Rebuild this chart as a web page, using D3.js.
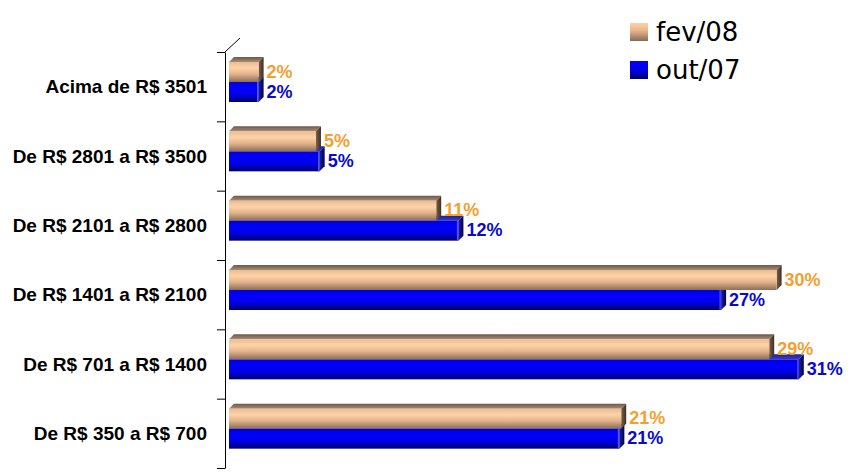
<!DOCTYPE html>
<html><head><meta charset="utf-8">
<script src="https://cdn.jsdelivr.net/npm/d3@7"></script>
<style>body{margin:0;background:#fff}svg{display:block}</style>
</head><body>
<svg id="c" width="855" height="476"></svg>
<script>
const categories = ["Acima de R$ 3501","De R$ 2801 a R$ 3500","De R$ 2101 a R$ 2800","De R$ 1401 a R$ 2100","De R$ 701 a R$ 1400","De R$ 350 a R$ 700"];
const seriesNames = ["fev/08","out/07"];
const fev08 = [1.6, 4.7, 11.2, 29.6, 29.2, 21.2];
const out07 = [1.6, 4.9, 12.4, 26.6, 30.8, 21.1];

const svg = d3.select("#c");
const defs = svg.append("defs");
function grad(id, stops, horiz){
  const g = defs.append("linearGradient").attr("id", id)
    .attr("x1",0).attr("y1",0).attr("x2",horiz?1:0).attr("y2",horiz?0:1);
  stops.forEach(s=>g.append("stop").attr("offset",s[0]).attr("stop-color",s[1]));
}
grad("tanFront",[[0,"#E9BC94"],[0.3,"#FFD2A6"],[0.6,"#E2B48C"],[1,"#8E6E55"]]);
grad("tanTop",[[0,"#6E5848"],[1,"#A88C78"]]);
grad("tanSide",[[0,"#7A6048"],[1,"#3E2E22"]],true);
grad("blueFront",[[0,"#0000D8"],[0.3,"#0000FF"],[0.65,"#0000E0"],[1,"#00006E"]]);
grad("blueTop",[[0,"#202090"],[1,"#3A3AD0"]]);
grad("blueSide",[[0,"#2020A0"],[1,"#00004A"]],true);
grad("legTan",[[0,"#FFD0A4"],[0.4,"#E8B890"],[1,"#8A6A52"]]);
grad("legBlue",[[0,"#0000FF"],[0.5,"#0000E8"],[1,"#000070"]]);

const x = d3.scaleLinear().domain([0,31]).range([229, 229+31*18.5]);
const y = d3.scaleBand().domain(categories).range([52,468]).padding(0);
const ys = d3.scaleBand().domain(seriesNames).range([10,50]).padding(0);
const axisX = 225;
const D = 5; // depth

const data = [];
categories.forEach((c,i)=>{
  data.push({cat:c, s:"out/07", v:out07[i]});
});
categories.forEach((c,i)=>{
  data.push({cat:c, s:"fev/08", v:fev08[i]});
});

const style = {
  "fev/08":{front:"url(#tanFront)",top:"url(#tanTop)",side:"url(#tanSide)",label:"#F4A030"},
  "out/07":{front:"url(#blueFront)",top:"url(#blueTop)",side:"url(#blueSide)",label:"#0A0ACD"}
};

const bars = svg.append("g");
const g = bars.selectAll("g.bar").data(data).join("g").attr("class","bar");
g.each(function(d){
  const sel = d3.select(this);
  const x0 = x(0), x1 = x(d.v);
  const yt = y(d.cat) + ys(d.s), yb = yt + ys.bandwidth();
  const st = style[d.s];
  sel.append("path").attr("d",`M${x0},${yt}L${x0+D},${yt-D}L${x1+D},${yt-D}L${x1},${yt}Z`).attr("fill",st.top);
  sel.append("path").attr("d",`M${x1},${yt}L${x1+D},${yt-D}L${x1+D},${yb-D}L${x1},${yb}Z`).attr("fill",st.side);
  sel.append("rect").attr("x",x0).attr("y",yt).attr("width",x1-x0).attr("height",yb-yt).attr("fill",st.front);
  if(d.s==="out/07"){
    sel.append("line").attr("x1",x1-1).attr("x2",x1-1).attr("y1",yt).attr("y2",yb).attr("stroke","#6060ff").attr("stroke-width",1);
  }
});

// value labels
svg.append("g").selectAll("text").data(data).join("text")
  .attr("x", d=>x(d.v)+D+3)
  .attr("y", d=>y(d.cat)+ys(d.s)+ys.bandwidth()/2+5.5)
  .attr("fill", d=>style[d.s].label)
  .attr("font-family","Liberation Sans, Arial, sans-serif")
  .attr("font-weight","bold").attr("font-size",18)
  .text(d=>Math.round(d.v)+"%");

// axis line + ticks at band boundaries
const yl = d3.scaleLinear().domain([0,categories.length]).range([52,468]);
const ax = svg.append("g").attr("transform",`translate(${axisX},0)`)
  .call(d3.axisLeft(yl).tickValues(d3.range(0,categories.length+1)).tickFormat("").tickSize(8).tickSizeOuter(0));
ax.selectAll("path,line").attr("stroke","#000").attr("stroke-width",1);
svg.append("line").attr("x1",axisX).attr("y1",52).attr("x2",axisX+15).attr("y2",38).attr("stroke","#000");

// category labels
const lab = svg.append("g").attr("transform",`translate(${axisX},0)`)
  .call(d3.axisLeft(y).tickSize(0).tickPadding(18));
lab.select(".domain").remove();
lab.selectAll("text").attr("font-family","Liberation Sans, Arial, sans-serif")
  .attr("font-weight","bold").attr("font-size",19).attr("fill","#000").attr("dy","0.35em");

// legend
const leg = svg.append("g").selectAll("g").data(seriesNames).join("g")
  .attr("transform",(d,i)=>`translate(630,${23+i*38})`);
leg.append("rect").attr("width",18).attr("height",18).attr("fill",(d,i)=>i===0?"url(#legTan)":"url(#legBlue)");
leg.append("text").attr("x",26).attr("y",18).attr("font-family","DejaVu Sans, sans-serif")
  .attr("font-size",26).attr("fill","#000").text(d=>d);
</script>
</body></html>
